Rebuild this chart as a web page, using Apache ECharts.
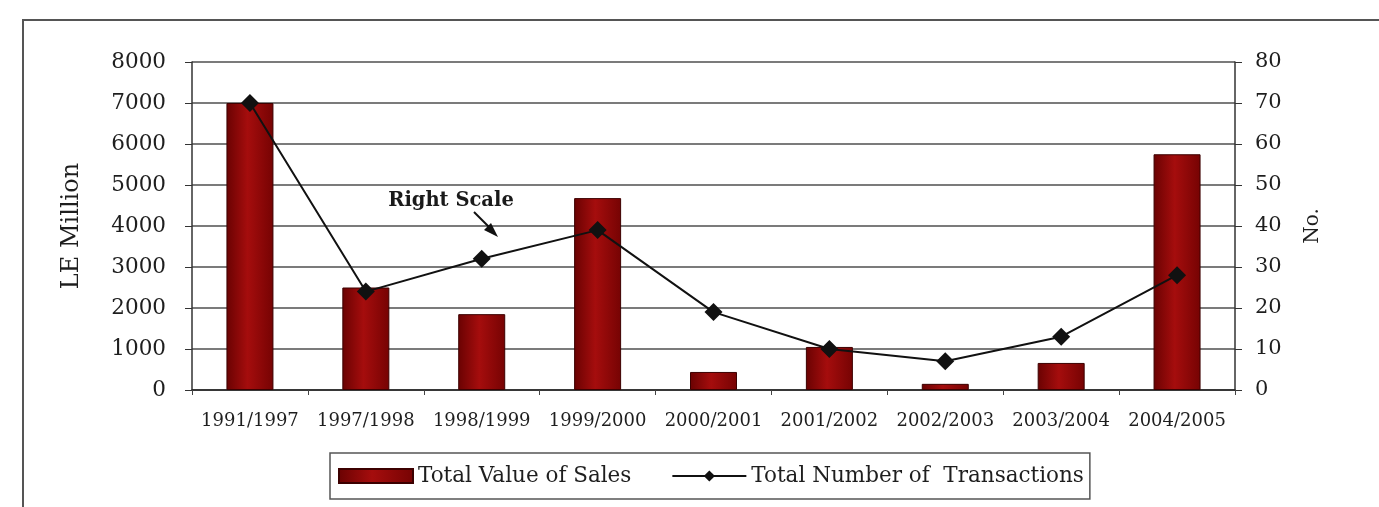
<!DOCTYPE html>
<html>
<head>
<meta charset="utf-8">
<script src="https://cdn.jsdelivr.net/npm/echarts@6/dist/echarts.min.js"></script>
<style>
  html, body { margin: 0; padding: 0; background: #ffffff; }
  #chart { width: 1379px; height: 507px; }
</style>
</head>
<body>
<div id="chart"></div>
<script>
// Fiscal periods on the category axis
const periods = ['1991/1997', '1997/1998', '1998/1999', '1999/2000', '2000/2001',
                 '2001/2002', '2002/2003', '2003/2004', '2004/2005'];
// Total value of sales, LE million (left axis)
const salesValue = [7000, 2500, 1850, 4680, 440, 1050, 150, 660, 5750];
// Total number of transactions (right axis)
const transactions = [70, 24, 32, 39, 19, 10, 7, 13, 28];
// Axis tick ranges
const leftTicks = { min: 0, max: 8000, interval: 1000 };
const rightTicks = { min: 0, max: 80, interval: 10 };

const FONT = 'DejaVu Serif';
const INK = '#1e1e1e';
const GRID = '#4f4f4f';

const chart = echarts.init(document.getElementById('chart'));

chart.setOption({
  backgroundColor: '#ffffff',
  animation: false,
  textStyle: { fontFamily: FONT, color: INK },
  grid: { left: 192, right: 144, top: 62, bottom: 117 },
  legend: {
    left: 330, top: 453,
    padding: [11, 6, 11, 8],
    borderColor: '#555', borderWidth: 1.5,
    itemWidth: 74, itemHeight: 14, itemGap: 40,
    textStyle: { fontFamily: FONT, fontSize: 21.5, color: INK, lineHeight: 24 },
    data: [
      { name: 'Total Value of Sales', icon: 'rect' },
      { name: 'Total Number of  Transactions' }
    ]
  },
  xAxis: {
    type: 'category',
    data: periods,
    axisLine: { lineStyle: { color: '#222', width: 1.5 } },
    axisTick: { show: true, length: 5, lineStyle: { color: '#444' } },
    axisLabel: { interval: 0, fontFamily: FONT, fontSize: 18, color: INK, margin: 22 }
  },
  yAxis: [
    {
      type: 'value',
      min: leftTicks.min, max: leftTicks.max, interval: leftTicks.interval,
      name: 'LE Million',
      nameLocation: 'middle', nameRotate: 90, nameGap: 108,
      nameTextStyle: { fontFamily: FONT, fontSize: 24, color: INK },
      axisLine: { show: true, lineStyle: { color: '#333', width: 1.5 } },
      axisTick: { show: true, length: 7, lineStyle: { color: '#333' } },
      axisLabel: {
        fontFamily: FONT, fontSize: 21.5, color: INK, margin: 26,
        formatter: v => String(v)
      },
      splitLine: { lineStyle: { color: GRID, width: 1.6 } }
    },
    {
      type: 'value',
      position: 'right',
      min: rightTicks.min, max: rightTicks.max, interval: rightTicks.interval,
      name: 'No.',
      nameLocation: 'middle', nameRotate: 90, nameGap: 68,
      nameTextStyle: { fontFamily: FONT, fontSize: 20, color: INK },
      axisLine: { show: true, lineStyle: { color: '#333', width: 1.5 } },
      axisTick: { show: true, length: 7, lineStyle: { color: '#333' } },
      axisLabel: { fontFamily: FONT, fontSize: 21, color: INK, margin: 20 },
      splitLine: { show: false }
    }
  ],
  series: [
    {
      name: 'Total Value of Sales',
      type: 'bar',
      yAxisIndex: 0,
      data: salesValue,
      barWidth: 47,
      itemStyle: {
        color: new echarts.graphic.LinearGradient(0, 0, 1, 0, [
          { offset: 0, color: '#6a0202' },
          { offset: 0.45, color: '#a50d0d' },
          { offset: 1, color: '#760303' }
        ]),
        borderColor: '#3c0000',
        borderWidth: 1
      },
      z: 2
    },
    {
      name: 'Total Number of  Transactions',
      type: 'line',
      yAxisIndex: 1,
      data: transactions,
      symbol: 'diamond',
      symbolSize: 18,
      lineStyle: { color: '#111', width: 2 },
      itemStyle: { color: '#111' },
      z: 5
    }
  ],
  graphic: [
    // outer chart frame
    {
      type: 'rect', silent: true, z: -10,
      shape: { x: 23, y: 20, width: 1400, height: 600 },
      style: { fill: 'none', stroke: '#555', lineWidth: 2 }
    },
    // "Right Scale" callout
    {
      type: 'text', silent: true, z: 10,
      style: {
        text: 'Right Scale', x: 451, y: 201,
        align: 'center', verticalAlign: 'middle',
        font: 'bold 19.5px "DejaVu Serif"', fill: '#1a1a1a'
      }
    },
    {
      type: 'line', silent: true, z: 10,
      shape: { x1: 474, y1: 212, x2: 491, y2: 229 },
      style: { stroke: '#111', lineWidth: 2 }
    },
    {
      type: 'polygon', silent: true, z: 10,
      shape: { points: [[498, 237], [484, 230], [491, 223]] },
      style: { fill: '#111' }
    }
  ]
});
</script>
</body>
</html>
